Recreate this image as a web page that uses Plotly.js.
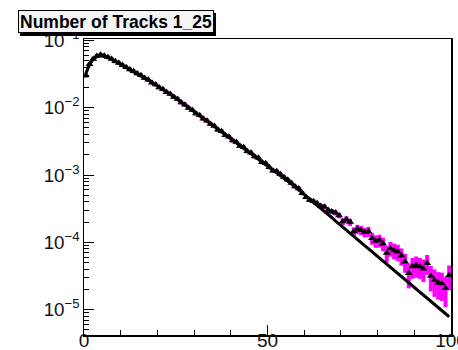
<!DOCTYPE html>
<html>
<head>
<meta charset="utf-8">
<script src="https://cdn.plot.ly/plotly-3.0.1.min.js"></script>
<style>
html,body{margin:0;padding:0;background:#fff;}
#chart{width:458px;height:350px;}
</style>
</head>
<body>
<div id="chart"></div>
<script>
const chartTitle = "Number of Tracks 1_25";
const xTickValues = [0, 50, 100];
const xTickLabels = ["0", "50", "100"];

const binCenters = [
 0.5, 1.5, 2.5, 3.5, 4.5, 5.5, 6.5, 7.5, 8.5, 9.5,
 10.5, 11.5, 12.5, 13.5, 14.5, 15.5, 16.5, 17.5, 18.5, 19.5,
 20.5, 21.5, 22.5, 23.5, 24.5, 25.5, 26.5, 27.5, 28.5, 29.5,
 30.5, 31.5, 32.5, 33.5, 34.5, 35.5, 36.5, 37.5, 38.5, 39.5,
 40.5, 41.5, 42.5, 43.5, 44.5, 45.5, 46.5, 47.5, 48.5, 49.5,
 50.5, 51.5, 52.5, 53.5, 54.5, 55.5, 56.5, 57.5, 58.5, 59.5,
 60.5, 61.5, 62.5, 63.5, 64.5, 65.5, 66.5, 67.5, 68.5, 69.5,
 70.5, 71.5, 72.5, 73.5, 74.5, 75.5, 76.5, 77.5, 78.5, 79.5,
 80.5, 81.5, 82.5, 83.5, 84.5, 85.5, 86.5, 87.5, 88.5, 89.5,
 90.5, 91.5, 92.5, 93.5, 94.5, 95.5, 96.5, 97.5, 98.5, 99.5
];

const curveValues = [
 3.20e-2, 4.37e-2, 5.25e-2, 5.75e-2, 6.03e-2, 5.89e-2, 5.62e-2, 5.25e-2, 4.90e-2, 4.57e-2,
 4.27e-2, 3.98e-2, 3.72e-2, 3.47e-2, 3.24e-2, 3.02e-2, 2.79e-2, 2.57e-2, 2.37e-2, 2.19e-2,
 2.02e-2, 1.86e-2, 1.72e-2, 1.58e-2, 1.45e-2, 1.32e-2, 1.20e-2, 1.10e-2, 1.00e-2, 9.12e-3,
 8.32e-3, 7.59e-3, 6.92e-3, 6.31e-3, 5.75e-3, 5.25e-3, 4.79e-3, 4.37e-3, 3.98e-3, 3.63e-3,
 3.31e-3, 3.02e-3, 2.75e-3, 2.51e-3, 2.29e-3, 2.09e-3, 1.91e-3, 1.74e-3, 1.58e-3, 1.45e-3,
 1.32e-3, 1.20e-3, 1.10e-3, 1.00e-3, 9.12e-4, 8.22e-4, 7.41e-4, 6.68e-4, 6.03e-4, 5.43e-4,
 4.90e-4, 4.42e-4, 3.98e-4, 3.55e-4, 3.20e-4, 2.88e-4, 2.60e-4, 2.34e-4, 2.09e-4, 1.88e-4,
 1.70e-4, 1.53e-4, 1.38e-4, 1.23e-4, 1.11e-4, 1.00e-4, 9.02e-5, 8.13e-5, 7.24e-5, 6.53e-5,
 5.89e-5, 5.31e-5, 4.79e-5, 4.27e-5, 3.85e-5, 3.47e-5, 3.13e-5, 2.82e-5, 2.51e-5, 2.26e-5,
 2.04e-5, 1.84e-5, 1.66e-5, 1.48e-5, 1.33e-5, 1.20e-5, 1.08e-5, 9.77e-6, 8.71e-6, 7.85e-6
];

const pointValues = [
 3.00e-2, 4.40e-2, 5.30e-2, 5.85e-2, 6.10e-2, 5.90e-2, 5.60e-2, 5.28e-2, 4.88e-2, 4.60e-2,
 4.25e-2, 3.99e-2, 3.70e-2, 3.49e-2, 3.22e-2, 3.04e-2, 2.77e-2, 2.59e-2, 2.35e-2, 2.21e-2,
 2.00e-2, 1.88e-2, 1.70e-2, 1.60e-2, 1.44e-2, 1.34e-2, 1.19e-2, 1.11e-2, 9.90e-3, 9.25e-3,
 8.20e-3, 7.70e-3, 6.85e-3, 6.40e-3, 5.70e-3, 5.35e-3, 4.70e-3, 4.45e-3, 3.90e-3, 3.70e-3,
 3.25e-3, 3.10e-3, 2.70e-3, 2.58e-3, 2.25e-3, 2.15e-3, 1.88e-3, 1.80e-3, 1.55e-3, 1.50e-3,
 1.30e-3, 1.16e-3, 1.14e-3, 1.03e-3, 9.30e-4, 8.51e-4, 7.59e-4, 6.76e-4, 6.31e-4, 5.37e-4,
 4.68e-4, 4.27e-4, 4.07e-4, 3.80e-4, 3.47e-4, 3.39e-4, 3.02e-4, 2.88e-4, 2.75e-4, 2.51e-4,
 2.04e-4, 2.19e-4, 2.00e-4, 1.45e-4, 1.58e-4, 1.51e-4, 1.41e-4, 1.45e-4, 1.15e-4, 1.05e-4,
 1.07e-4, 9.55e-5, 6.92e-5, 8.13e-5, 7.59e-5, 7.24e-5, 6.31e-5, 5.13e-5, 3.47e-5, 4.37e-5,
 4.57e-5, 4.37e-5, 4.07e-5, 4.90e-5, 3.16e-5, 2.75e-5, 2.51e-5, 2.45e-5, 2.09e-5, 3.24e-5
];

const pointErrors = [
 2.0e-4, 2.6e-4, 3.2e-4, 3.5e-4, 3.6e-4, 3.5e-4, 3.4e-4, 3.2e-4, 2.9e-4, 2.8e-4,
 3.8e-4, 3.6e-4, 3.4e-4, 3.1e-4, 2.9e-4, 2.7e-4, 2.5e-4, 2.3e-4, 2.2e-4, 2.0e-4,
 2.4e-4, 2.2e-4, 2.0e-4, 1.9e-4, 1.7e-4, 1.6e-4, 1.4e-4, 1.3e-4, 1.2e-4, 1.1e-4,
 1.5e-4, 1.4e-4, 1.3e-4, 1.1e-4, 1.0e-4, 9.6e-5, 8.4e-5, 7.8e-5, 7.2e-5, 6.6e-5,
 9.0e-5, 8.4e-5, 7.2e-5, 6.6e-5, 6.0e-5, 5.6e-5, 5.2e-5, 4.7e-5, 4.3e-5, 3.9e-5,
 4.7e-5, 4.3e-5, 4.0e-5, 3.6e-5, 3.3e-5, 4.1e-5, 3.7e-5, 3.7e-5, 3.4e-5, 3.2e-5,
 2.8e-5, 2.8e-5, 2.7e-5, 2.8e-5, 2.5e-5, 2.6e-5, 2.5e-5, 2.4e-5, 2.5e-5, 2.4e-5,
 2.4e-5, 2.5e-5, 2.5e-5, 2.2e-5, 2.4e-5, 2.4e-5, 2.3e-5, 2.5e-5, 2.3e-5, 2.2e-5,
 2.3e-5, 2.2e-5, 1.9e-5, 2.0e-5, 2.0e-5, 2.0e-5, 1.8e-5, 1.6e-5, 1.4e-5, 1.5e-5,
 1.6e-5, 1.5e-5, 1.5e-5, 1.6e-5, 1.3e-5, 1.2e-5, 1.1e-5, 1.1e-5, 1.0e-5, 1.3e-5
];

const halfBinWidths = binCenters.map(() => 0.5);

const traces = [
  {
    x: binCenters, y: pointValues, type: 'scatter', mode: 'markers',
    marker: {symbol: 'triangle-up', size: 7, color: '#000'},
    error_y: {type: 'data', array: pointErrors, visible: true, color: '#ff00ff', thickness: 4, width: 0},
    error_x: {type: 'data', array: halfBinWidths, visible: true, color: '#ff00ff', thickness: 4, width: 0},
    hoverinfo: 'skip', showlegend: false
  },
  {
    x: binCenters, y: curveValues, type: 'scatter', mode: 'lines',
    line: {color: '#000', width: 3},
    hoverinfo: 'skip', showlegend: false
  }
];

const yFont = {family: 'Liberation Sans, Arial, sans-serif', size: 15, color: '#111'};
const xFont = {family: 'Liberation Sans, Arial, sans-serif', size: 19, color: '#111'};

const layout = {
  width: 458, height: 350,
  margin: {l: 84, r: 7, t: 39, b: 15, pad: 0},
  paper_bgcolor: '#fff', plot_bgcolor: '#fff',
  showlegend: false,
  xaxis: {
    range: [0, 100], showgrid: false, zeroline: false,
    showline: true, linecolor: '#000', linewidth: 1.5, mirror: true,
    ticks: 'inside', ticklen: 10, tickwidth: 1, tickcolor: '#000',
    tickmode: 'array', tickvals: xTickValues, ticktext: xTickLabels,
    ticklabelstandoff: -12, ticklabeloverflow: 'allow',
    minor: {dtick: 10, ticks: 'inside', ticklen: 5, tickcolor: '#000', tickwidth: 1, showgrid: false},
    tickfont: xFont
  },
  yaxis: {
    type: 'log', range: [-5.376, -0.98], showgrid: false, zeroline: false,
    showline: true, linecolor: '#000', linewidth: 1.5, mirror: true,
    ticks: 'inside', ticklen: 10, tickwidth: 1, tickcolor: '#000',
    dtick: 1, exponentformat: 'power',
    minor: {dtick: 'D1', ticks: 'inside', ticklen: 5, tickcolor: '#000', tickwidth: 1, showgrid: false},
    tickfont: yFont
  },
  annotations: [
    {
      xref: 'paper', yref: 'paper', x: (118 - 84) / 367, y: (335 - 24) / 296,
      xanchor: 'center', yanchor: 'middle', showarrow: false,
      text: chartTitle, width: 194, height: 21,
      font: {family: 'Liberation Sans, Arial, sans-serif', size: 17, color: 'rgba(0,0,0,0)', weight: 'bold'},
      bgcolor: '#000', borderwidth: 1, bordercolor: '#000', borderpad: 0
    },
    {
      xref: 'paper', yref: 'paper', x: (116 - 84) / 367, y: (335 - 21.5) / 296,
      xanchor: 'center', yanchor: 'middle', showarrow: false,
      text: '<b>' + chartTitle + '</b>', width: 194, height: 21,
      font: {family: 'Liberation Sans, Arial, sans-serif', size: 17.5, color: '#000'},
      bgcolor: '#f4f4f4', borderwidth: 1, bordercolor: '#000', borderpad: 0
    }
  ]
};

Plotly.newPlot('chart', traces, layout, {displayModeBar: false, staticPlot: true});
</script>
</body>
</html>
